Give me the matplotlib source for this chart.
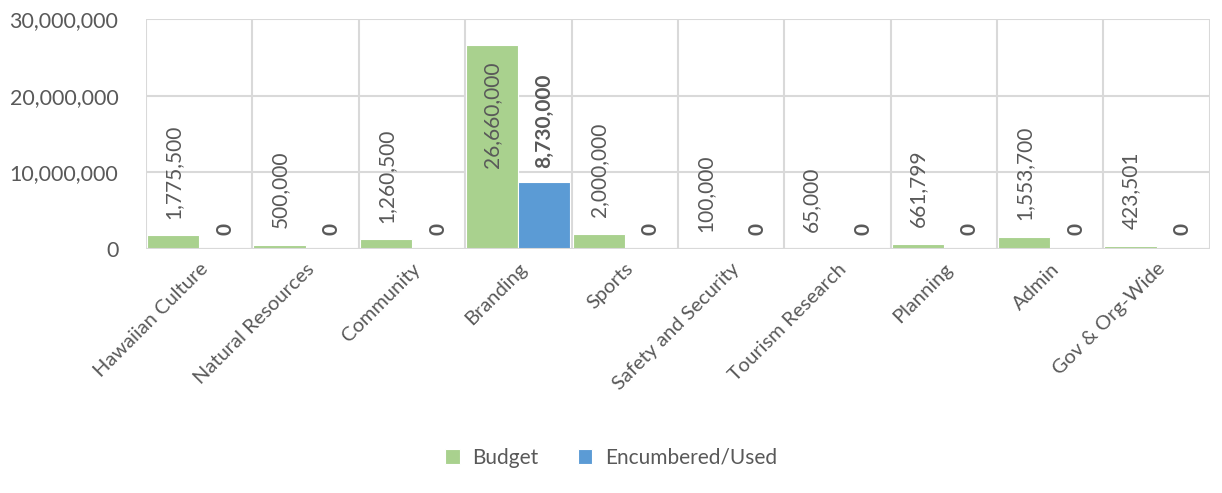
import matplotlib
matplotlib.use("Agg")
import matplotlib.pyplot as plt
import numpy as np
from matplotlib.ticker import FuncFormatter, MultipleLocator

categories = ["Hawaiian Culture", "Natural Resources", "Community", "Branding", "Sports",
              "Safety and Security", "Tourism Research", "Planning", "Admin", "Gov & Org-Wide"]
budget = [1775500, 500000, 1260500, 26660000, 2000000, 100000, 65000, 661799, 1553700, 423501]
used = [0, 0, 0, 8730000, 0, 0, 0, 0, 0, 0]

plt.rcParams['font.family'] = ['Lato', 'DejaVu Sans']
TXT = '#595959'
GRID = '#d9d9d9'
GREEN = '#A9D18E'
BLUE = '#5B9BD5'

fig = plt.figure(figsize=(12.22, 4.93), dpi=100)
ax = fig.add_axes([0.1195, 0.495, 0.8705, 0.4665])

n = len(categories)
x = np.arange(n)
w = 0.49
ax.bar(x - w / 2, budget, width=w, color=GREEN, label='Budget', edgecolor='white', linewidth=0.8, zorder=3)
ax.bar(x + w / 2, used, width=w, color=BLUE, label='Encumbered/Used', edgecolor='white', linewidth=0.8, zorder=3)

ax.set_xlim(-0.5, n - 0.5)
ax.set_ylim(0, 30000000)
ax.yaxis.set_major_locator(MultipleLocator(10000000))
ax.yaxis.set_major_formatter(FuncFormatter(lambda v, p: f"{int(v):,}"))
ax.set_xticks(x)
ax.set_xticklabels(categories, rotation=45, ha='right', rotation_mode='anchor', fontsize=14.5, color=TXT)
ax.tick_params(axis='y', labelsize=15.5, colors=TXT, length=0, pad=20)
ax.tick_params(axis='x', length=0, pad=8)

for b in np.arange(-0.5, n, 1.0):
    ax.axvline(b, color=GRID, linewidth=1.5, zorder=1)
ax.yaxis.grid(True, color=GRID, linewidth=1.5, zorder=1)
for s in ax.spines.values():
    s.set_visible(False)
ax.axhline(0, color=GRID, linewidth=1.5, zorder=4)

for i in range(n):
    v = budget[i]
    if v > 20000000:
        ax.annotate(f"{v:,}", (x[i] - w / 2, v), xytext=(0, -12), textcoords='offset points',
                    rotation=90, ha='center', va='top', fontsize=15, color=TXT, zorder=5)
    else:
        ax.annotate(f"{v:,}", (x[i] - w / 2, v), xytext=(0, 12), textcoords='offset points',
                    rotation=90, ha='center', va='bottom', fontsize=15, color=TXT, zorder=5)
    u = used[i]
    ax.annotate(f"{u:,}", (x[i] + w / 2, u), xytext=(0, 10), textcoords='offset points',
                rotation=90, ha='center', va='bottom', fontsize=15, color=TXT, fontweight='bold', zorder=5)

leg = fig.legend(loc='center', bbox_to_anchor=(0.5, 0.071), ncol=2, frameon=False,
                 fontsize=15, handlelength=0.7, handleheight=0.7, columnspacing=1.9, handletextpad=0.6)
for t in leg.get_texts():
    t.set_color(TXT)

fig.savefig('out.png', dpi=100)
